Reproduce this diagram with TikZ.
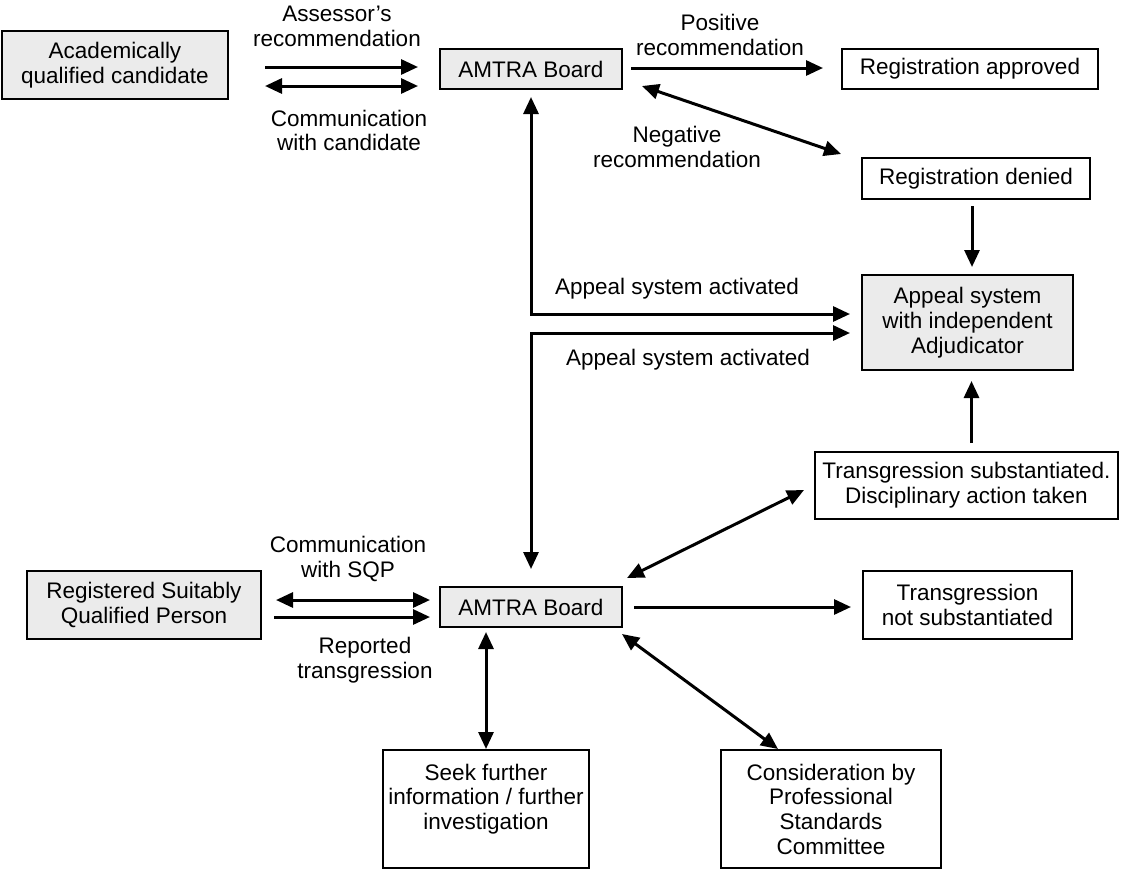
\documentclass[tikz,border=0pt]{standalone}
\usepackage{fontspec}
\setmainfont{Liberation Sans}
\usetikzlibrary{arrows.meta}
\definecolor{boxgrey}{HTML}{EBEBEB}
\tikzset{
    txt/.style={font=\fontsize{22.5}{24.7}\selectfont, align=center},
    box/.style={txt, draw, line width=2pt, inner sep=0pt},
    greybox/.style={box, fill=boxgrey},
    lbl/.style={txt, inner sep=0pt},
    arr/.style={line width=3pt, -{Triangle[length=17pt,width=15pt]}},
    dblarr/.style={line width=3pt, {Triangle[length=17pt,width=15pt]}-{Triangle[length=17pt,width=15pt]}},
}
\begin{document}
\begin{tikzpicture}[x=1pt,y=-1pt]
    \useasboundingbox (0,0) rectangle (1135,871);
    % boxes
    \node[greybox, minimum width=226pt, minimum height=68pt] (acad) at (115,65) {Academically\\qualified candidate};
    \node[greybox, minimum width=182pt, minimum height=40pt] (amtraT) at (531,69) {AMTRA Board};
    \node[box, minimum width=256pt, minimum height=40pt] (approved) at (970,69) {Registration approved};
    \node[box, minimum width=228pt, minimum height=41pt] (denied) at (976,178.5) {Registration denied};
    \node[greybox, minimum width=211pt, minimum height=95pt] (appeal) at (967.5,322.5) {Appeal system\\with independent\\Adjudicator};
    \node[box, minimum width=303pt, minimum height=67pt] (subst) at (966.5,485.5) {Transgression substantiated.\\Disciplinary action taken};
    \node[box, minimum width=209pt, minimum height=68pt] (notsubst) at (967.5,605) {Transgression\\not substantiated};
    \node[greybox, minimum width=234pt, minimum height=68pt] (sqp) at (144,605) {Registered Suitably\\Qualified Person};
    \node[greybox, minimum width=182pt, minimum height=40pt] (amtraB) at (531,607) {AMTRA Board};
    \node[box, minimum width=206pt, minimum height=118pt] (seek) at (486,809) {Seek further\\information / further\\investigation\\\mbox{}};
    \node[box, minimum width=220pt, minimum height=118pt] (psc) at (831,809) {Consideration by\\Professional\\Standards\\Committee};
    % labels
    \node[lbl] (assessorlbl) at (337,26.5) {Assessor's\\recommendation};
    \node[lbl] (commcandlbl) at (349,130.5) {Communication\\with candidate};
    \node[lbl] (poslbl) at (720,35) {Positive\\recommendation};
    \node[lbl] (neglbl) at (677,147) {Negative\\recommendation};
    \node[lbl] (appealTlbl) at (677,289) {Appeal system activated};
    \node[lbl] (appealBlbl) at (688,360) {Appeal system activated};
    \node[lbl] (commsqplbl) at (348,559) {Communication\\with SQP};
    \node[lbl] (reportlbl) at (365,660) {Reported\\transgression};
    % top part
    \draw[arr, shorten <=36pt, shorten >=21pt] ([yshift=2pt]acad.east |- amtraT.west) -- ([yshift=2pt]amtraT.west);
    \draw[dblarr, shorten <=36pt, shorten >=21pt] ([yshift=-17pt]acad.east |- amtraT.west) -- ([yshift=-17pt]amtraT.west);
    \draw[arr, shorten <=8pt, shorten >=18pt] ([yshift=1pt]amtraT.east) -- ([yshift=1pt]amtraT.east -| approved.west);
    \draw[dblarr] ([xshift=19pt,yshift=4pt]amtraT.south east) -- ([xshift=-20pt,yshift=3pt]denied.north west);
    \draw[arr, shorten <=6pt, shorten >=7pt] ([xshift=-4pt]denied.south) -- ([xshift=-4pt]denied.south |- appeal.north);
    \draw[arr, shorten <=8pt, shorten >=10pt] ([xshift=5pt]subst.north) -- ([xshift=5pt]subst.north |- appeal.south);
    % appeal lines
    \draw[dblarr] ([yshift=-7pt]amtraT.south) |- ([xshift=-11pt,yshift=8.5pt]appeal.west);
    \draw[dblarr] ([yshift=17pt]amtraB.north) |- ([xshift=-11pt,yshift=-10.5pt]appeal.west);
    % bottom part
    \draw[dblarr, shorten <=14pt, shorten >=9pt] ([yshift=5pt]sqp.east) -- ([yshift=5pt]sqp.east -| amtraB.west);
    \draw[arr, shorten <=12pt, shorten >=9pt] ([yshift=-12pt]sqp.east) -- ([yshift=-12pt]sqp.east -| amtraB.west);
    \draw[dblarr, shorten <=4pt] (amtraB.south -| seek.north) -- (seek.north);
    \draw[dblarr] ([xshift=-1pt,yshift=-6pt]amtraB.south east) -- ([xshift=-53pt]psc.north);
    \draw[dblarr] ([xshift=4pt,yshift=8pt]amtraB.north east) -- ([xshift=-10pt,yshift=-4.5pt]subst.west);
    \draw[arr, shorten <=11pt, shorten >=11pt] (amtraB.east) -- (amtraB.east -| notsubst.west);
\end{tikzpicture}
\end{document}
